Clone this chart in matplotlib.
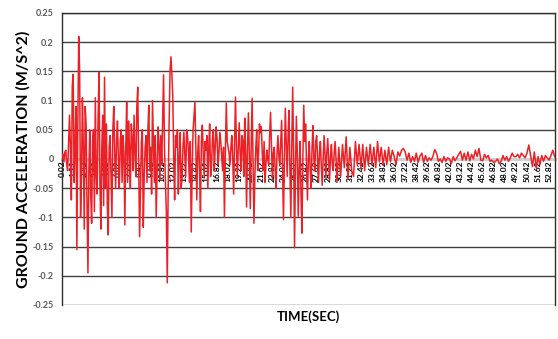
import numpy as np
import matplotlib
matplotlib.use('agg')
import matplotlib.pyplot as plt

# strong shaking, every 0.1 s from 0.02 s to 29.92 s
accel_strong = [
    0.0, 0.008, -0.005, 0.012, 0.015, -0.01, -0.02, 0.03, 0.075, 0.02, -0.07, 0.125,
    0.145, -0.04, 0.02, 0.09, -0.155, 0.06, 0.21, 0.15, -0.10, -0.03, 0.105, 0.02,
    -0.12, 0.09, 0.06, -0.08, -0.195, -0.02, 0.05, -0.06, -0.11, 0.03, 0.05, -0.09,
    0.105, -0.03, -0.06, 0.07, 0.148, -0.04, -0.12, 0.02, 0.075, -0.08, 0.14, -0.05,
    0.06, -0.08, -0.13, 0.02, 0.04, -0.03, -0.10, 0.05, 0.09, 0.01, -0.05, 0.03,
    0.065, 0.0, -0.05, 0.03, 0.05, -0.04, 0.04, 0.01, -0.113, 0.02, 0.097, -0.04,
    0.065, 0.02, -0.05, 0.06, 0.035, -0.02, 0.075, 0.01, -0.03, 0.09, 0.123, -0.01,
    -0.133, -0.05, 0.03, 0.05, -0.117, -0.03, 0.02, 0.04, -0.04, 0.05, 0.092, -0.02,
    0.02, -0.06, 0.10, 0.03, -0.04, 0.04, -0.10, -0.02, 0.055, 0.03, -0.035, 0.04,
    -0.01, 0.07, 0.144, 0.02, -0.04, -0.09, -0.212, -0.05, 0.06, 0.15, 0.175, 0.145,
    0.107, 0.0, -0.07, 0.04, 0.02, 0.05, -0.06, 0.0, 0.045, -0.05, -0.035, 0.02,
    0.046, 0.01, -0.03, 0.05, 0.04, 0.01, -0.04, 0.03, -0.125, -0.02, 0.05, 0.075,
    0.097, 0.02, -0.07, 0.01, 0.04, -0.02, -0.09, 0.03, 0.058, 0.01, -0.03, 0.03,
    0.015, 0.04, -0.05, 0.02, 0.06, -0.03, -0.01, 0.035, 0.05, -0.02, 0.02, 0.055,
    0.035, -0.01, 0.01, 0.045, 0.03, 0.005, -0.02, 0.02, -0.10, 0.01, 0.096, 0.03,
    0.02, 0.01, -0.01, 0.02, 0.04, 0.0, -0.06, 0.03, 0.106, 0.02, -0.03, 0.02,
    0.062, 0.01, -0.02, 0.04, 0.03, -0.03, 0.07, 0.01, -0.082, 0.02, 0.079, 0.01,
    -0.085, 0.02, 0.104, 0.0, -0.11, -0.03, 0.02, 0.05, -0.02, 0.01, 0.06, 0.045,
    0.055, 0.01, -0.02, 0.03, -0.04, -0.01, 0.015, 0.0, -0.01, 0.04, 0.08, 0.02,
    -0.035, 0.01, 0.02, -0.02, -0.05, 0.01, 0.04, 0.005, -0.01, 0.03, 0.066, -0.02,
    -0.104, 0.0, 0.087, 0.03, -0.03, 0.04, 0.083, -0.02, -0.10, 0.02, 0.123, 0.01,
    -0.152, -0.02, 0.073, 0.01, -0.098, -0.02, 0.03, -0.06, -0.127, 0.0, 0.092, 0.03,
    0.06, -0.01, -0.07, 0.0, 0.03, -0.02, -0.05, 0.02, 0.057, 0.0, -0.02, 0.03,
    0.04, 0.0, -0.04, 0.01, 0.03, -0.01, -0.045, 0.0, 0.04, 0.01, -0.03, 0.01,
    0.035, 0.0, -0.036, 0.005, 0.025, -0.01, -0.02, 0.01, 0.03, 0.0, -0.04, -0.01,
]
strong_start, strong_step = 0.02, 0.1

# coda, read every 0.2 s from 30.02 s
accel_coda = [
    0.02, -0.03, 0.025, -0.015, 0.038, -0.035,
    0.02, -0.02, -0.03, 0.03, -0.01, 0.025,
    -0.015, 0.025, -0.02, 0.02, -0.01, 0.025,
    -0.01, 0.02, -0.015, 0.03, -0.005, 0.02,
    -0.01, 0.015, -0.01, 0.02, -0.005, 0.015,
    0.005, -0.01, 0.012, 0.005, 0.015, 0.018,
    0.012, -0.002, 0.01, -0.006, 0.004, -0.004,
    0.01, -0.006, 0.005, 0.01, -0.006, 0.006,
    -0.004, 0.002, -0.002, 0.004, 0.016, 0.01,
    -0.004, 0.0, -0.006, 0.004, -0.004, 0.002,
    0.0, -0.008, 0.004, -0.003, 0.002, 0.008,
    0.013, -0.002, 0.01, -0.002, 0.012, -0.003,
    0.008, 0.0, 0.015, 0.004, 0.018, -0.002,
    -0.003, 0.008, 0.002, 0.006, -0.004, -0.002,
    -0.006, -0.004, 0.0, -0.008, -0.004, 0.006,
    -0.002, 0.004, -0.004, 0.002, 0.01, 0.004,
    0.004, 0.008, 0.002, 0.01, 0.006, 0.002,
    0.01, 0.024, 0.005, -0.013, 0.012, -0.015,
    0.004, -0.01, 0.006, -0.004, 0.006, 0.002,
    -0.002, 0.006, 0.015, 0.004,
]
coda_start, coda_step = 30.02, 0.2

tick_times = [round(0.02 + 1.2 * k, 2) for k in range(45)]
tick_labels = ['%.2f' % v for v in tick_times]
y_ticks = [-0.25, -0.2, -0.15, -0.1, -0.05, 0, 0.05, 0.1, 0.15, 0.2, 0.25]
y_labels = ['-0.25', '-0.2', '-0.15', '-0.1', '-0.05', '0', '0.05', '0.1', '0.15', '0.2', '0.25']

plt.rcParams['font.family'] = ['Lato', 'DejaVu Sans']

fig = plt.figure(figsize=(5.58, 3.39), dpi=100)
ax = fig.add_axes([0.111, 0.1003, 0.8836, 0.8614])

t = np.concatenate([strong_start + strong_step * np.arange(len(accel_strong)),
                    coda_start + coda_step * np.arange(len(accel_coda))])
a = np.concatenate([accel_strong, accel_coda])
ax.plot(t, a, color='#ec2127', lw=1.1, zorder=3)

ax.set_xlim(0.0, 53.46)
ax.set_ylim(-0.25, 0.25)

ax.set_yticks(y_ticks)
ax.set_yticklabels(y_labels, fontsize=6.5, fontweight='bold', color='#595959')
ax.tick_params(axis='y', length=0, pad=6)
for y in y_ticks:
    if y != 0:
        ax.axhline(y, color='#404040', lw=1.0, zorder=1)

# category axis crosses at zero
ax.spines['bottom'].set_position(('data', 0))
ax.spines['bottom'].set_color('#d0d0d0')
ax.spines['bottom'].set_linewidth(2.2)
ax.spines['bottom'].set_zorder(2)
ax.set_xticks(tick_times)
ax.set_xticklabels(tick_labels, rotation=90, fontsize=6, fontweight='bold')
ax.tick_params(axis='x', length=0, pad=1)
for lab in ax.get_xticklabels():
    lab.set_zorder(4)

for s in ['left', 'top', 'right']:
    ax.spines[s].set_color('#303030')
    ax.spines[s].set_linewidth(1.0)

ax.set_ylabel('GROUND ACCELERATION (M/S^2)', fontsize=11.5, fontweight='bold', labelpad=1.5)
fig.text(0.552, 0.065, 'TIME(SEC)', ha='center', va='center', fontsize=9.5, fontweight='bold')

fig.savefig('out.png', dpi=100)
